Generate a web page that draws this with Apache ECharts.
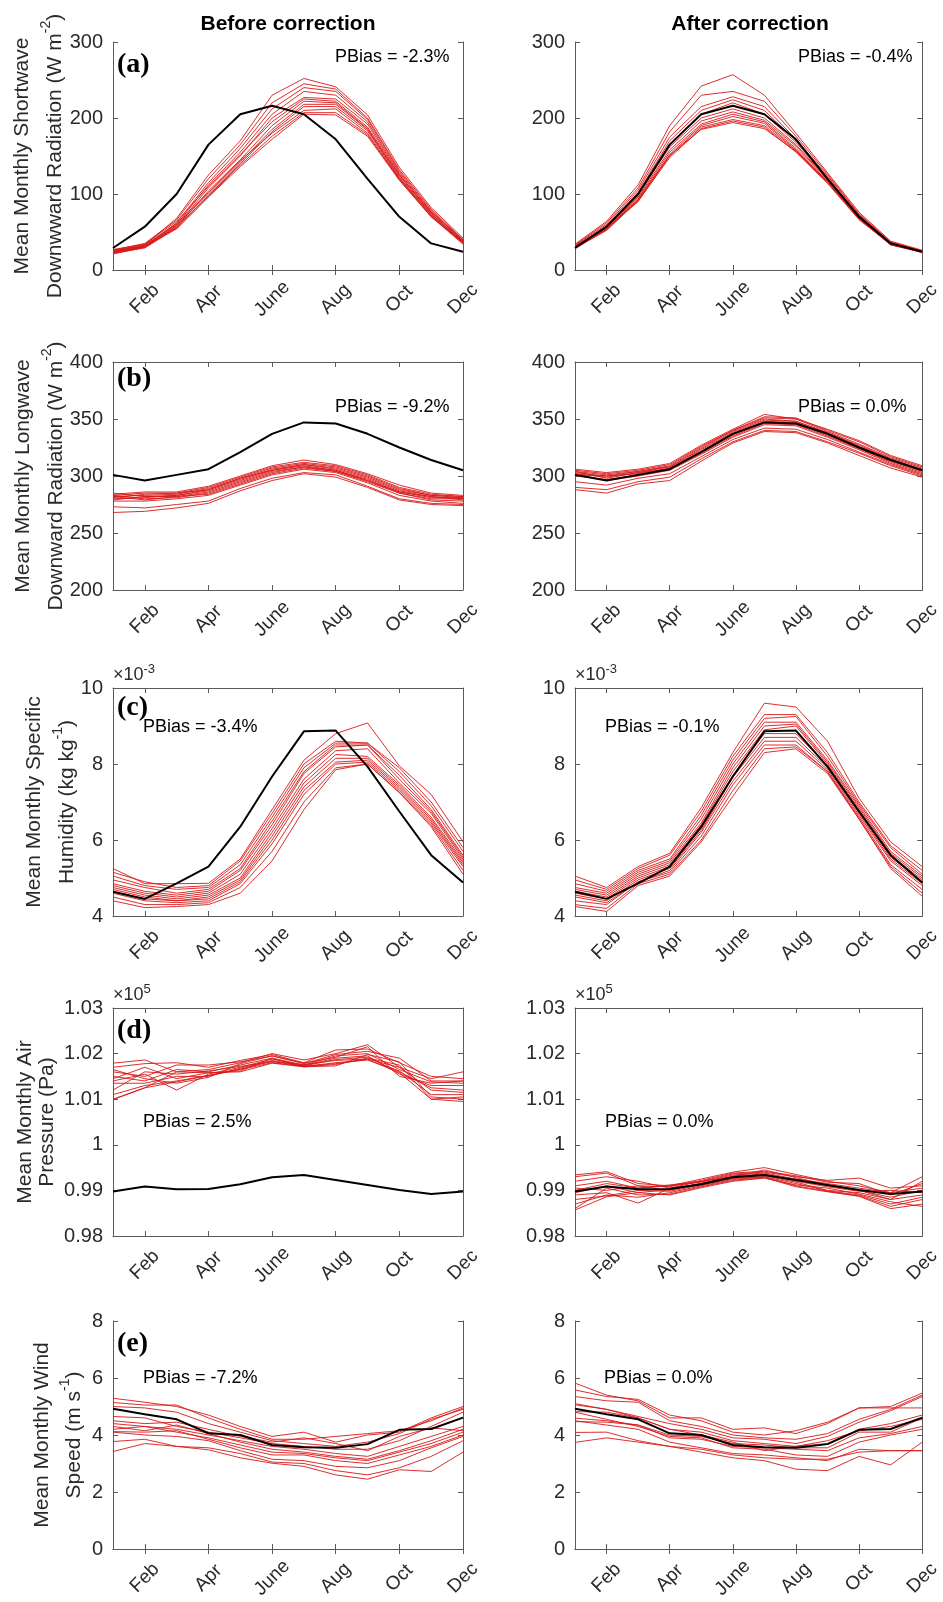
<!DOCTYPE html>
<html>
<head>
<meta charset="utf-8">
<script src="https://cdn.jsdelivr.net/npm/echarts@6/dist/echarts.min.js"></script>
<style>
  html, body { margin: 0; padding: 0; background: #fff; }
  #chart { width: 943px; height: 1602px; }
</style>
</head>
<body>
<div id="chart"></div>
<script>
// Month categories; only every second month is labelled on the axis
const months = ['Jan', 'Feb', 'Mar', 'Apr', 'May', 'June', 'July', 'Aug', 'Sep', 'Oct', 'Nov', 'Dec'];

// ---------- (a) Shortwave downward radiation, W m-2 ----------
const swObs = [29, 57, 100, 165, 205, 216, 205, 172, 120, 70, 35, 24];
const swBefore = [
  [24, 33, 68, 125, 170, 230, 252, 241, 204, 135, 82, 42],
  [26, 35, 66, 120, 165, 220, 245, 238, 200, 132, 80, 40],
  [22, 31, 62, 115, 160, 212, 240, 235, 198, 130, 78, 38],
  [25, 32, 60, 112, 155, 205, 235, 230, 195, 128, 77, 40],
  [23, 30, 58, 108, 150, 200, 227, 225, 192, 126, 75, 37],
  [27, 34, 64, 110, 152, 195, 225, 222, 188, 125, 76, 39],
  [21, 30, 56, 104, 145, 190, 222, 220, 186, 124, 74, 36],
  [24, 31, 59, 100, 142, 185, 218, 218, 185, 122, 73, 38],
  [22, 29, 55, 98, 140, 182, 215, 215, 183, 121, 72, 35],
  [26, 33, 61, 102, 144, 180, 210, 212, 180, 120, 71, 37],
  [23, 31, 57, 97, 138, 176, 207, 207, 178, 119, 70, 36],
  [25, 32, 54, 96, 136, 172, 205, 204, 176, 118, 70, 34]
];
const swAfter = [
  [34, 64, 112, 190, 242, 257, 230, 180, 128, 76, 38, 26],
  [33, 62, 108, 182, 230, 235, 222, 176, 126, 74, 37, 25],
  [32, 60, 105, 175, 215, 228, 215, 172, 124, 73, 36, 25],
  [31, 58, 102, 170, 210, 224, 210, 170, 122, 72, 36, 24],
  [30, 57, 100, 165, 205, 220, 205, 168, 121, 71, 35, 24],
  [32, 56, 98, 162, 200, 212, 200, 165, 120, 70, 35, 25],
  [29, 55, 96, 158, 196, 208, 197, 163, 119, 70, 34, 24],
  [30, 54, 94, 155, 192, 205, 195, 160, 118, 69, 34, 23],
  [28, 53, 92, 152, 190, 202, 193, 158, 116, 68, 33, 24],
  [31, 55, 90, 150, 188, 198, 190, 157, 115, 67, 33, 23],
  [29, 52, 91, 148, 186, 196, 188, 155, 114, 66, 34, 24],
  [30, 54, 93, 151, 185, 194, 186, 156, 117, 68, 35, 25]
];

// ---------- (b) Longwave downward radiation, W m-2 ----------
const lwObs = [301, 296, 301, 306, 321, 337, 347, 346, 337, 325, 314, 305];
const lwBefore = [
  [284, 286, 286, 291, 300, 309, 314, 310, 302, 292, 285, 283],
  [283, 285, 285, 290, 299, 308, 312, 309, 301, 290, 284, 282],
  [282, 283, 284, 289, 298, 307, 311, 308, 300, 289, 283, 281],
  [285, 282, 283, 288, 297, 306, 310, 307, 299, 288, 283, 282],
  [281, 284, 285, 288, 298, 305, 310, 306, 298, 287, 282, 280],
  [280, 281, 283, 287, 296, 305, 309, 305, 297, 286, 281, 281],
  [282, 279, 282, 286, 295, 304, 308, 305, 296, 286, 282, 279],
  [283, 280, 281, 285, 294, 303, 308, 304, 295, 285, 280, 280],
  [279, 282, 282, 284, 293, 302, 307, 304, 296, 285, 279, 278],
  [278, 278, 280, 283, 292, 301, 306, 303, 294, 283, 278, 276],
  [273, 272, 275, 278, 289, 298, 303, 301, 291, 280, 276, 275],
  [268, 269, 272, 276, 287, 296, 302, 299, 290, 279, 275, 274]
];
const lwAfter = [
  [306, 303, 306, 311, 327, 341, 354, 350, 341, 331, 318, 309],
  [305, 302, 305, 310, 326, 340, 352, 351, 340, 330, 317, 308],
  [304, 301, 304, 309, 325, 340, 351, 350, 339, 328, 316, 307],
  [303, 300, 304, 308, 324, 339, 350, 348, 338, 327, 315, 306],
  [302, 299, 303, 308, 323, 338, 349, 348, 338, 326, 315, 305],
  [301, 300, 302, 307, 322, 337, 348, 347, 337, 325, 314, 305],
  [304, 298, 303, 306, 321, 336, 347, 346, 336, 324, 313, 304],
  [300, 297, 301, 306, 320, 335, 346, 345, 335, 324, 312, 303],
  [302, 296, 300, 305, 319, 334, 345, 344, 334, 323, 311, 302],
  [295, 292, 298, 302, 317, 332, 342, 341, 332, 321, 310, 301],
  [290, 288, 295, 299, 315, 330, 340, 339, 330, 320, 309, 300],
  [288, 285, 293, 296, 313, 329, 339, 338, 329, 318, 307, 299]
];

// ---------- (c) Specific humidity, g/kg (axis shown as x10^-3 kg/kg) ----------
const qObs = [4.64, 4.45, 4.86, 5.30, 6.35, 7.67, 8.86, 8.88, 7.93, 6.75, 5.60, 4.88];
const qBefore = [
  [5.25, 4.85, 4.85, 4.86, 5.5, 6.8, 8.1, 8.8, 9.08, 7.95, 7.2, 5.95],
  [5.15, 4.9, 4.75, 4.8, 5.45, 6.7, 8.0, 8.6, 8.55, 7.9, 7.0, 5.8],
  [5.05, 4.8, 4.7, 4.75, 5.35, 6.6, 7.9, 8.55, 8.55, 7.8, 6.9, 5.7],
  [4.95, 4.75, 4.6, 4.7, 5.25, 6.5, 7.8, 8.5, 8.5, 7.7, 6.8, 5.6],
  [4.85, 4.65, 4.55, 4.65, 5.2, 6.4, 7.75, 8.45, 8.5, 7.6, 6.75, 5.55],
  [4.8, 4.6, 4.5, 4.6, 5.1, 6.3, 7.6, 8.35, 8.4, 7.5, 6.7, 5.5],
  [4.75, 4.55, 4.45, 4.55, 5.0, 6.2, 7.5, 8.25, 8.2, 7.45, 6.6, 5.45],
  [4.7, 4.5, 4.4, 4.5, 4.95, 6.1, 7.4, 8.15, 8.15, 7.4, 6.55, 5.4],
  [4.65, 4.45, 4.4, 4.45, 4.9, 6.0, 7.3, 8.05, 8.1, 7.35, 6.5, 5.35],
  [4.6, 4.4, 4.35, 4.4, 4.85, 5.9, 7.2, 8.0, 8.05, 7.3, 6.45, 5.3],
  [4.5, 4.3, 4.3, 4.35, 4.75, 5.7, 7.0, 7.9, 8.0, 7.25, 6.4, 5.2],
  [4.4, 4.22, 4.25, 4.3, 4.6, 5.45, 6.8, 7.85, 8.0, 7.25, 6.35, 5.1]
];
const qAfter = [
  [5.05, 4.75, 5.3, 5.65, 6.85, 8.3, 9.6, 9.5, 8.6, 7.1, 5.95, 5.3],
  [4.95, 4.7, 5.25, 5.6, 6.75, 8.2, 9.3, 9.3, 8.3, 7.0, 5.85, 5.2],
  [4.85, 4.65, 5.2, 5.5, 6.65, 8.1, 9.2, 9.25, 8.2, 6.95, 5.8, 5.1],
  [4.75, 4.6, 5.15, 5.45, 6.55, 8.0, 9.1, 9.1, 8.1, 6.9, 5.7, 5.05],
  [4.7, 4.55, 5.1, 5.4, 6.45, 7.9, 9.0, 9.05, 8.05, 6.85, 5.65, 5.0],
  [4.65, 4.5, 5.05, 5.35, 6.4, 7.8, 8.9, 9.0, 8.0, 6.8, 5.6, 4.95],
  [4.6, 4.45, 5.0, 5.3, 6.3, 7.7, 8.8, 8.8, 7.95, 6.75, 5.55, 4.9],
  [4.55, 4.4, 4.95, 5.25, 6.25, 7.65, 8.7, 8.7, 7.9, 6.7, 5.5, 4.85],
  [4.5, 4.35, 4.9, 5.2, 6.2, 7.55, 8.6, 8.6, 7.85, 6.65, 5.45, 4.8],
  [4.4, 4.3, 4.9, 5.15, 6.1, 7.45, 8.5, 8.5, 7.8, 6.6, 5.35, 4.7],
  [4.3, 4.2, 4.85, 5.1, 6.0, 7.3, 8.4, 8.45, 7.8, 6.55, 5.3, 4.6],
  [4.25, 4.12, 4.8, 5.05, 5.95, 7.15, 8.3, 8.4, 7.75, 6.55, 5.25, 4.52]
];

// ---------- (d) Air pressure, Pa ----------
const psObs = [98974, 99084, 99025, 99030, 99135, 99288, 99340, 99230, 99120, 99010, 98922, 98974];
const psBefore = [
  [101790, 101860, 101600, 101650, 101800, 102000, 101860, 102000, 102195, 101700, 101450, 101600],
  [101700, 101780, 101800, 101700, 101850, 101980, 101800, 102080, 102100, 101800, 101500, 101450],
  [101600, 101500, 101750, 101750, 101820, 101950, 101780, 101980, 102050, 101900, 101400, 101400],
  [101500, 101400, 101650, 101600, 101750, 101900, 101750, 101950, 102000, 101650, 101380, 101350],
  [101400, 101550, 101200, 101550, 101700, 101880, 101740, 101900, 101950, 101550, 101300, 101300],
  [101350, 101350, 101500, 101500, 101680, 101850, 101730, 101870, 101920, 101600, 101250, 101200],
  [101200, 101600, 101550, 101620, 101720, 101820, 101760, 101850, 101880, 101700, 101200, 101150],
  [101100, 101300, 101400, 101520, 101650, 101800, 101720, 101800, 101860, 101620, 101100, 101100],
  [101000, 101250, 101600, 101580, 101600, 101790, 101710, 101760, 101900, 101750, 101000, 101050],
  [101650, 101450, 101350, 101480, 101780, 101950, 101790, 101920, 102150, 101500, 101350, 101400],
  [101450, 101700, 101450, 101580, 101620, 101900, 101710, 101730, 101980, 101820, 101050, 101000],
  [100990, 101250, 101380, 101520, 101660, 101830, 101720, 101780, 101870, 101580, 101000, 100950]
];
const psAfter = [
  [99340, 99410, 99150, 99100, 99250, 99400, 99500, 99350, 99200, 99100, 98950, 99300],
  [99300, 99380, 99100, 99080, 99220, 99380, 99420, 99320, 99180, 99150, 98900, 99150],
  [99200, 99300, 99200, 99050, 99200, 99360, 99400, 99300, 99220, 99270, 99050, 99100],
  [99100, 99200, 99050, 99100, 99180, 99340, 99380, 99250, 99150, 99050, 98950, 99050],
  [99050, 99000, 99100, 99000, 99150, 99320, 99360, 99220, 99100, 99000, 98850, 99000],
  [98950, 99100, 98950, 99020, 99160, 99300, 99340, 99200, 99080, 98980, 99000, 98950],
  [98900, 98950, 98720, 99050, 99140, 99280, 99320, 99180, 99000, 98950, 98800, 98900],
  [98800, 98880, 99000, 98980, 99120, 99260, 99300, 99150, 98990, 98900, 98700, 98850],
  [98700, 98900, 98850, 98950, 99100, 99240, 99290, 99100, 98980, 98880, 98650, 98800],
  [98600, 99050, 98900, 98920, 99080, 99220, 99280, 99080, 98970, 98870, 98600, 98700],
  [98570, 98860, 98950, 98900, 99060, 99200, 99270, 99120, 99050, 98920, 98750, 98650],
  [99000, 99150, 99050, 99120, 99200, 99300, 99450, 99280, 99120, 99000, 98800, 99200]
];

// ---------- (e) Wind speed, m s-1 ----------
const wsObs = [4.92, 4.73, 4.55, 4.06, 4.0, 3.65, 3.57, 3.55, 3.68, 4.18, 4.21, 4.61];
const wsBefore = [
  [5.29, 5.15, 5.0, 4.7, 4.3, 3.95, 4.1, 3.75, 4.0, 4.1, 4.6, 5.0],
  [5.14, 5.05, 5.05, 4.6, 4.2, 3.85, 3.85, 3.95, 4.05, 4.15, 4.5, 4.95],
  [5.0, 4.95, 4.8, 4.4, 4.1, 3.8, 3.7, 3.6, 3.75, 4.05, 4.55, 4.9],
  [4.65, 4.6, 4.3, 4.1, 3.9, 3.7, 3.6, 3.5, 3.5, 3.8, 4.3, 4.8],
  [4.4, 4.3, 4.2, 4.0, 3.8, 3.6, 3.5, 3.35, 3.25, 3.6, 3.95, 4.3],
  [4.3, 4.15, 4.35, 4.05, 3.75, 3.5, 3.4, 3.25, 3.15, 3.45, 3.8, 4.2],
  [4.2, 4.3, 4.1, 3.9, 3.65, 3.4, 3.35, 3.2, 3.1, 3.4, 3.7, 4.1],
  [4.12, 4.1, 4.15, 3.85, 3.55, 3.3, 3.3, 3.1, 3.0, 3.3, 3.6, 4.0],
  [4.1, 4.0, 3.95, 3.8, 3.45, 3.15, 3.1, 2.9, 2.85, 3.1, 3.55, 3.95],
  [3.77, 3.85, 3.6, 3.55, 3.35, 3.05, 3.0, 2.75, 2.6, 2.85, 3.25, 3.8],
  [3.42, 3.7, 3.6, 3.48, 3.2, 3.01, 2.9, 2.6, 2.45, 2.78, 2.72, 3.4],
  [4.5, 4.4, 4.45, 4.2, 3.95, 3.75, 3.9, 3.7, 3.45, 3.95, 4.25, 4.15]
];
const wsAfter = [
  [5.82, 5.4, 5.2, 4.6, 4.6, 4.2, 4.25, 4.05, 4.4, 4.95, 4.95, 4.95],
  [5.58, 5.35, 5.25, 4.7, 4.5, 4.1, 4.0, 4.15, 4.45, 4.95, 5.0, 5.47],
  [5.35, 5.2, 5.15, 4.5, 4.3, 4.0, 3.9, 3.85, 4.05, 4.55, 4.9, 5.4],
  [5.06, 4.9, 4.65, 4.4, 4.2, 3.9, 3.85, 3.7, 3.95, 4.45, 4.85, 5.35],
  [4.82, 4.8, 4.6, 4.2, 4.1, 3.8, 3.7, 3.6, 3.7, 4.2, 4.4, 4.7],
  [4.59, 4.5, 4.35, 4.0, 3.95, 3.7, 3.65, 3.55, 3.55, 4.1, 4.1, 4.6],
  [4.47, 4.45, 4.35, 3.9, 3.85, 3.6, 3.55, 3.5, 3.45, 3.9, 4.05, 4.3],
  [4.8, 4.55, 4.3, 3.95, 3.9, 3.55, 3.5, 3.3, 3.25, 3.75, 4.0, 4.2],
  [4.09, 4.1, 3.8, 3.6, 3.5, 3.3, 3.2, 3.15, 3.15, 3.4, 3.45, 3.45],
  [3.74, 3.9, 3.75, 3.6, 3.4, 3.2, 3.1, 2.8, 2.75, 3.25, 2.95, 3.75],
  [4.5, 4.35, 4.2, 3.75, 3.55, 3.35, 3.3, 3.2, 3.1, 3.5, 3.45, 3.45],
  [5.1, 4.9, 4.6, 4.2, 4.0, 3.75, 3.45, 3.6, 3.8, 4.15, 4.3, 4.55]
];

// Percent bias annotations
const pbiasBefore = ['-2.3%', '-9.2%', '-3.4%', '2.5%', '-7.2%'];
const pbiasAfter = ['-0.4%', '0.0%', '-0.1%', '0.0%', '0.0%'];

// Y-axis ranges [min, max, interval]
const yRanges = [[0, 300, 100], [200, 400, 50], [4, 10, 2], [98000, 103000, 1000], [0, 8, 2]];

const panelLetters = ['(a)', '(b)', '(c)', '(d)', '(e)'];
const yTitles = [
  '{n|Mean Monthly Shortwave}\n{n|Downwward Radiation (W m}{s|-2}{n|)}',
  '{n|Mean Monthly Longwave}\n{n|Downward Radiation (W m}{s|-2}{n|)}',
  '{n|Mean Monthly Specific}\n{n|Humidity (kg kg}{s|-1}{n|)}',
  '{n|Mean Monthly Air}\n{n|Pressure (Pa)}',
  '{n|Mean Monthly Wind}\n{n|Speed (m s}{s|-1}{n|)}'
];
const exponents = [null, null, '-3', '5', null];

const rows = [
  { obs: swObs, before: swBefore, after: swAfter },
  { obs: lwObs, before: lwBefore, after: lwAfter },
  { obs: qObs, before: qBefore, after: qAfter },
  { obs: psObs, before: psBefore, after: psAfter },
  { obs: wsObs, before: wsBefore, after: wsAfter }
];

// ---------- layout ----------
const SANS = '"Liberation Sans", Arial, Helvetica, sans-serif';
const SERIF = '"Liberation Serif", "Times New Roman", serif';
const colLeft = [113, 575];
const rowTop = [42, 362, 688, 1008, 1321];
const gridW = 350, gridH = 228;
const axisGray = '#5a5a5a';
const labelColor = '#2a2a2a';
const redLine = '#d81818';

const labelEveryOther = (i) => i % 2 === 1;
const yFormat = [
  (v) => String(v),
  (v) => String(v),
  (v) => String(v),
  (v) => String(+(v / 1e5).toFixed(2)),
  (v) => String(v)
];

const grid = [], xAxis = [], yAxis = [], series = [], graphic = [];

rows.forEach((row, r) => {
  [0, 1].forEach((c) => {
    const g = r * 2 + c;
    grid.push({ left: colLeft[c], top: rowTop[r], width: gridW, height: gridH, containLabel: false });
    const [ymin, ymax, yint] = yRanges[r];

    // bottom axis with month labels
    xAxis.push({
      type: 'category', gridIndex: g, position: 'bottom', data: months, boundaryGap: false,
      axisLine: { show: true, lineStyle: { color: axisGray, width: 1 } },
      axisTick: { show: true, inside: true, length: 5, interval: labelEveryOther, lineStyle: { color: axisGray } },
      axisLabel: {
        show: true, interval: labelEveryOther, rotate: 45, align: 'center', verticalAlign: 'middle',
        margin: 29, fontSize: 19, fontFamily: SANS, color: labelColor
      },
      splitLine: { show: false }
    });
    // top mirror axis (box edge + ticks)
    xAxis.push({
      type: 'category', gridIndex: g, position: 'top', data: months, boundaryGap: false,
      axisLine: { show: true, lineStyle: { color: axisGray, width: 1 } },
      axisTick: { show: true, inside: true, length: 5, interval: labelEveryOther, lineStyle: { color: axisGray } },
      axisLabel: { show: false }, splitLine: { show: false }
    });
    // left value axis
    yAxis.push({
      type: 'value', gridIndex: g, position: 'left', min: ymin, max: ymax, interval: yint,
      axisLine: { show: true, lineStyle: { color: axisGray, width: 1 } },
      axisTick: { show: true, inside: true, length: 5, lineStyle: { color: axisGray } },
      axisLabel: { show: true, margin: 10, fontSize: 20, fontFamily: SANS, color: labelColor, formatter: yFormat[r] },
      splitLine: { show: false }
    });
    // right mirror axis
    yAxis.push({
      type: 'value', gridIndex: g, position: 'right', min: ymin, max: ymax, interval: yint,
      axisLine: { show: true, lineStyle: { color: axisGray, width: 1 } },
      axisTick: { show: true, inside: true, length: 5, lineStyle: { color: axisGray } },
      axisLabel: { show: false }, splitLine: { show: false }
    });

    const ensemble = c === 0 ? row.before : row.after;
    ensemble.forEach((vals) => {
      series.push({
        type: 'line', xAxisIndex: 2 * g, yAxisIndex: 2 * g, data: vals,
        symbol: 'none', silent: true, z: 2,
        lineStyle: { color: redLine, width: 1, opacity: 0.9 }
      });
    });
    series.push({
      type: 'line', xAxisIndex: 2 * g, yAxisIndex: 2 * g, data: row.obs,
      symbol: 'none', silent: true, z: 3,
      lineStyle: { color: '#000', width: 2 }
    });
  });
});

// ---------- annotations ----------
const titleY = 24;
graphic.push({ type: 'text', x: colLeft[0] + gridW / 2, y: titleY,
  style: { text: 'Before correction', font: 'bold 21px ' + SANS, fill: '#000', align: 'center', verticalAlign: 'middle' } });
graphic.push({ type: 'text', x: colLeft[1] + gridW / 2, y: titleY,
  style: { text: 'After correction', font: 'bold 21px ' + SANS, fill: '#000', align: 'center', verticalAlign: 'middle' } });

const letterDy = [23, 17, 20, 23, 23];
const pbiasPos = [
  [[335, 57], [798, 57]],
  [[335, 407], [798, 407]],
  [[143, 727], [605, 727]],
  [[143, 1122], [605, 1122]],
  [[143, 1378], [604, 1378]]
];
// y-title block centre (x) and line spacing per row; line 2 with a superscript sits lower
const yTitleX = [39, 40, 51, 36, 58];
const yTitleLH = [33, 33, 33, 22, 32];

rows.forEach((row, r) => {
  graphic.push({ type: 'text', x: 117, y: rowTop[r] + letterDy[r],
    style: { text: panelLetters[r], font: 'bold 28px ' + SERIF, fill: '#000', align: 'left', verticalAlign: 'middle' } });

  graphic.push({ type: 'text', x: pbiasPos[r][0][0], y: pbiasPos[r][0][1],
    style: { text: 'PBias = ' + pbiasBefore[r], font: '18px ' + SANS, fill: '#000', align: 'left', verticalAlign: 'middle' } });
  graphic.push({ type: 'text', x: pbiasPos[r][1][0], y: pbiasPos[r][1][1],
    style: { text: 'PBias = ' + pbiasAfter[r], font: '18px ' + SANS, fill: '#000', align: 'left', verticalAlign: 'middle' } });

  graphic.push({ type: 'text', x: yTitleX[r], y: rowTop[r] + gridH / 2, rotation: Math.PI / 2,
    style: {
      text: yTitles[r], align: 'center', verticalAlign: 'middle', fill: labelColor,
      rich: {
        n: { fontSize: 21, fontFamily: SANS, lineHeight: yTitleLH[r], fill: labelColor },
        s: { fontSize: 14, fontFamily: SANS, verticalAlign: 'top', fill: labelColor }
      }
    } });

  if (exponents[r]) {
    [0, 1].forEach((c) => {
      graphic.push({ type: 'text', x: colLeft[c], y: rowTop[r] - 13,
        style: {
          text: '{n|\u00d710}{s|' + exponents[r] + '}', align: 'left', verticalAlign: 'middle',
          rich: {
            n: { fontSize: 18, fontFamily: SANS, lineHeight: 24, fill: labelColor },
            s: { fontSize: 13, fontFamily: SANS, verticalAlign: 'top', fill: labelColor }
          }
        } });
    });
  }
});

const chart = echarts.init(document.getElementById('chart'), null, { renderer: 'canvas' });
chart.setOption({
  animation: false,
  backgroundColor: '#fff',
  grid, xAxis, yAxis, series, graphic
});
</script>
</body>
</html>
